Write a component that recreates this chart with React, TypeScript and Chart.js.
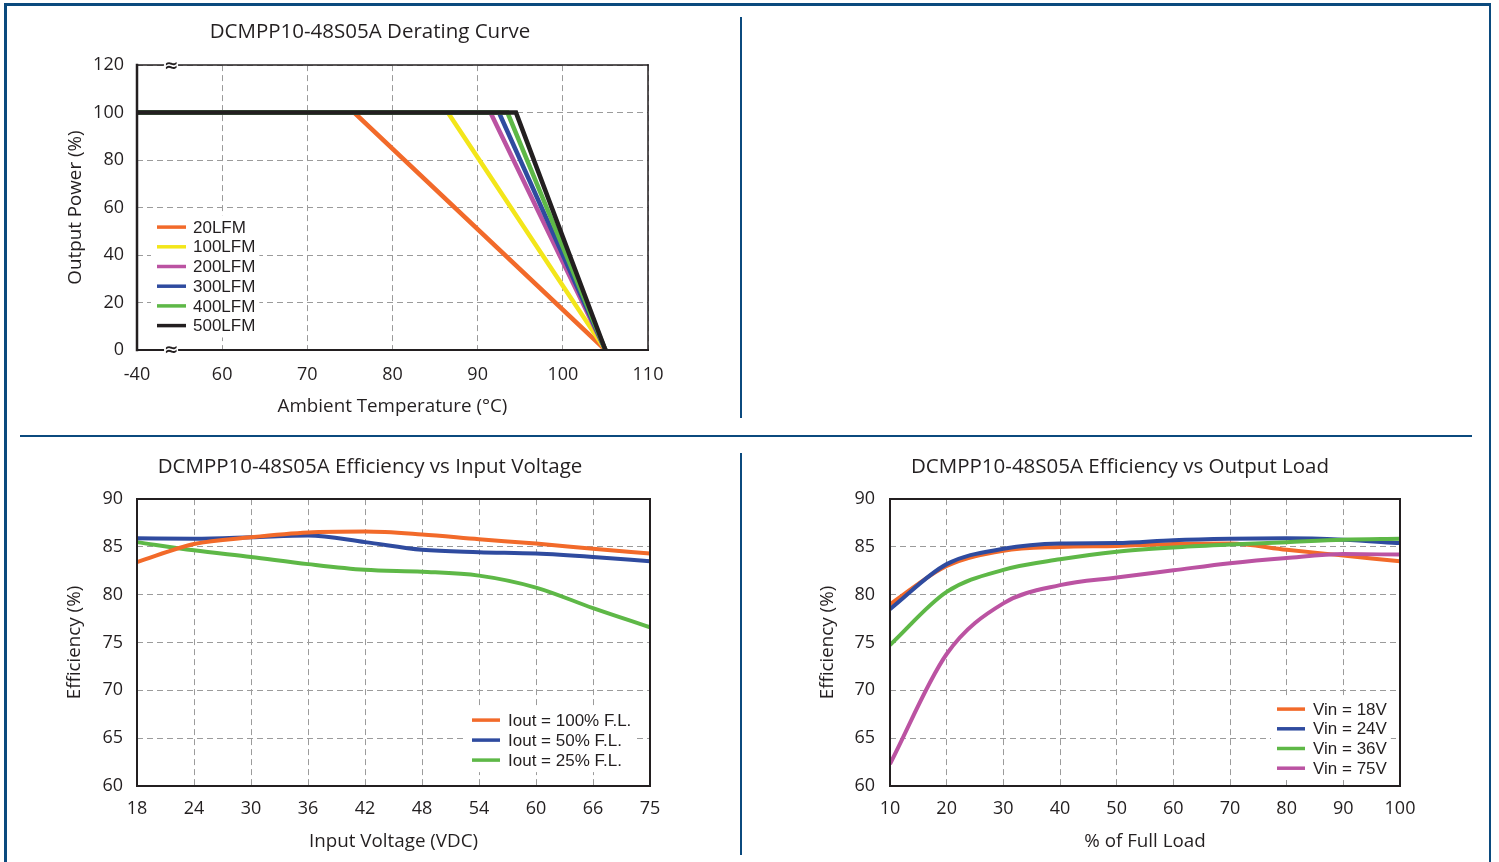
import React, { useEffect, useRef } from 'react';
import { Chart, registerables } from 'chart.js';
Chart.register(...registerables);

// ---------------- DATA ----------------
// Derating curve
const derateLabels = ['20LFM', '100LFM', '200LFM', '300LFM', '400LFM', '500LFM'];
const derateKneeTemp = [75.5, 86.5, 91.5, 92.5, 93.5, 94.5];
const derateStartTemp = -40;
const derateEndTemp = 105;
const derateFullPower = 100;
const derateZeroPower = 0;
const derateXTicks = [-40, 60, 70, 80, 90, 100, 110];

// Efficiency vs input voltage
const vinTicks = ['18', '24', '30', '36', '42', '48', '54', '60', '66', '75'];
const vinSeriesLabels = ['Iout = 100% F.L.', 'Iout = 50% F.L.', 'Iout = 25% F.L.'];
const effVinFull = [83.4, 85.3, 86.0, 86.5, 86.6, 86.3, 85.8, 85.35, 84.8, 84.3];
const effVinHalf = [85.9, 85.85, 86.0, 86.2, 85.5, 84.7, 84.45, 84.3, 83.95, 83.5];
const effVinQuarter = [85.5, 84.65, 83.95, 83.2, 82.6, 82.4, 82.0, 80.75, 78.6, 76.6];

// Efficiency vs output load
const loadPct = [10, 20, 30, 40, 50, 60, 70, 80, 90, 100];
const loadSeriesLabels = ['Vin = 18V', 'Vin = 24V', 'Vin = 36V', 'Vin = 75V'];
const effLoad18 = [79.0, 83.0, 84.6, 85.0, 85.1, 85.3, 85.35, 84.7, 84.1, 83.5];
const effLoad24 = [78.5, 83.2, 84.8, 85.35, 85.4, 85.7, 85.85, 85.9, 85.75, 85.4];
const effLoad36 = [74.75, 80.3, 82.6, 83.7, 84.5, 84.95, 85.25, 85.5, 85.75, 85.85];
const effLoad75 = [62.3, 73.8, 79.1, 81.0, 81.8, 82.55, 83.3, 83.85, 84.25, 84.2];

// ---------------- STYLE ----------------
const ORANGE = '#f26a2a';
const YELLOW = '#f3e61a';
const MAGENTA = '#bb53a2';
const BLUE = '#2f4b9f';
const GREEN = '#5eb847';
const BLACK = '#231f20';
const derateColors = [ORANGE, YELLOW, MAGENTA, BLUE, GREEN, BLACK];
const FRAME_BLUE = '#0b4a7e';
const GRID = '#9b9b9b';
const TEXT = '#231f20';
const FONT = "'Open Sans', sans-serif";
const LEGEND_FONT = "17px 'Liberation Sans', Arial, sans-serif";

Chart.defaults.font.family = FONT;
Chart.defaults.color = TEXT;

// axis break: -40..60 compressed into one 10-unit interval
const BREAK_LOW = -40;
const BREAK_HIGH = 60;
const BREAK_AXIS_LOW = 50;
const toAxis = (t: number) =>
  t >= BREAK_HIGH ? t : BREAK_AXIS_LOW + ((t - BREAK_LOW) * (BREAK_HIGH - BREAK_AXIS_LOW)) / (BREAK_HIGH - BREAK_LOW);

// ---------------- PLUGINS ----------------
const framePlugin = {
  id: 'frame',
  afterDatasetsDraw(chart: any, _a: any, opts: any) {
    const { ctx, chartArea: a } = chart;
    const w = opts.widths || { left: 2, right: 2, top: 2, bottom: 2 };
    ctx.save();
    ctx.strokeStyle = opts.color || BLACK;
    ctx.lineCap = 'square';
    const seg = (x1: number, y1: number, x2: number, y2: number, lw: number) => {
      ctx.lineWidth = lw;
      ctx.beginPath();
      ctx.moveTo(x1, y1);
      ctx.lineTo(x2, y2);
      ctx.stroke();
    };
    seg(a.left, a.top, a.right, a.top, w.top);
    seg(a.right, a.top, a.right, a.bottom, w.right);
    seg(a.left, a.bottom, a.right, a.bottom, w.bottom);
    seg(a.left, a.top, a.left, a.bottom, w.left);
    ctx.restore();
  },
};

const breakPlugin = {
  id: 'axisBreak',
  afterDatasetsDraw(chart: any, _a: any, opts: any) {
    if (!opts || opts.at === undefined) return;
    const { ctx, chartArea: a } = chart;
    const x = chart.scales.x.getPixelForValue(opts.at);
    ctx.save();
    [a.top, a.bottom].forEach((y: number) => {
      ctx.fillStyle = '#ffffff';
      ctx.fillRect(x - 7, y - 3, 14, 6);
      ctx.fillStyle = BLACK;
      ctx.font = "bold 17px 'DejaVu Sans', sans-serif";
      ctx.textAlign = 'center';
      ctx.textBaseline = 'middle';
      ctx.fillText('\u2248', x, y + 1);
    });
    ctx.restore();
  },
};

const insideLegendPlugin = {
  id: 'insideLegend',
  beforeDatasetsDraw(chart: any, _a: any, opts: any) {
    const { ctx, chartArea: a } = chart;
    ctx.save();
    ctx.font = LEGEND_FONT;
    let maxW = 0;
    chart.data.datasets.forEach((d: any) => (maxW = Math.max(maxW, ctx.measureText(d.label).width)));
    const x0 = a.left + opts.dx;
    const y0 = a.top + opts.dy;
    const n = chart.data.datasets.length;
    ctx.fillStyle = '#ffffff';
    ctx.fillRect(x0 - 6, y0 - opts.rowH / 2 - 2, opts.lineLen + opts.gap + maxW + 10, opts.rowH * n + 4);
    ctx.restore();
  },
  afterDatasetsDraw(chart: any, _a: any, opts: any) {
    const { ctx, chartArea: a } = chart;
    const x0 = a.left + opts.dx;
    const y0 = a.top + opts.dy;
    ctx.save();
    ctx.font = LEGEND_FONT;
    ctx.textBaseline = 'middle';
    ctx.textAlign = 'left';
    chart.data.datasets.forEach((d: any, i: number) => {
      const y = y0 + i * opts.rowH;
      ctx.strokeStyle = d.borderColor;
      ctx.lineWidth = 3.5;
      ctx.beginPath();
      ctx.moveTo(x0, y);
      ctx.lineTo(x0 + opts.lineLen, y);
      ctx.stroke();
      ctx.fillStyle = TEXT;
      ctx.fillText(d.label, x0 + opts.lineLen + opts.gap, y + 1);
    });
    ctx.restore();
  },
};

// ---------------- HELPERS ----------------
const gridOpts = { color: GRID, lineWidth: 1, drawTicks: false };
const borderOpts = { display: false, dash: [6, 4] };
const tickFont = { size: 18, family: FONT };
const titleFont = { size: 18.8, family: FONT };

function yScale(min: number, max: number, step: number, title: string, width: number, titlePad: number, tickPad: number) {
  return {
    type: 'linear',
    position: 'left',
    min,
    max,
    ticks: { stepSize: step, font: tickFont, color: TEXT, padding: tickPad },
    grid: gridOpts,
    border: borderOpts,
    title: { display: true, text: title, font: titleFont, color: TEXT, padding: { top: titlePad, bottom: 0 } },
    afterFit: (s: any) => {
      s.width = width;
    },
  };
}

// empty right-hand spacer so the full-width title stays centred on the panel
function rightSpacer(width: number) {
  return {
    type: 'linear',
    position: 'right',
    display: true,
    grid: { display: false, drawTicks: false },
    border: { display: false },
    ticks: { display: false },
    title: { display: false },
    afterFit: (s: any) => {
      s.width = width;
    },
  };
}

function chartTitle(text: string, bottomPad: number) {
  return {
    display: true,
    text,
    color: TEXT,
    font: { size: 20.5, family: FONT, weight: 'normal' as const },
    padding: { top: 10, bottom: bottomPad },
  };
}

// ---------------- CONFIGS ----------------
function derateConfig(): any {
  const n = derateLabels.length;
  return {
    type: 'line',
    data: {
      datasets: derateLabels.map((label, i) => ({
        label,
        xAxisID: 'x',
        yAxisID: 'y',
        order: n - i,
        data: [
          { x: toAxis(derateStartTemp), y: derateFullPower },
          { x: toAxis(derateKneeTemp[i]), y: derateFullPower },
          { x: toAxis(derateEndTemp), y: derateZeroPower },
        ],
        borderColor: derateColors[i],
        backgroundColor: derateColors[i],
        borderWidth: 4.5,
        pointRadius: 0,
        tension: 0,
        borderCapStyle: 'butt',
      })),
    },
    options: {
      responsive: false,
      animation: false,
      layout: { padding: 0 },
      plugins: {
        legend: { display: false },
        tooltip: { enabled: false },
        title: chartTitle('DCMPP10-48S05A Derating Curve', 20.5),
        frame: { color: BLACK, widths: { left: 2.5, bottom: 2, top: 1.5, right: 1.5 } },
        axisBreak: { at: toAxis(0) },
        insideLegend: { dx: 20, dy: 162, rowH: 19.7, lineLen: 29, gap: 7 },
      },
      scales: {
        x: {
          type: 'linear',
          min: toAxis(derateXTicks[0]),
          max: toAxis(derateXTicks[derateXTicks.length - 1]),
          afterBuildTicks: (s: any) => {
            s.ticks = derateXTicks.map((t) => ({ value: toAxis(t) }));
          },
          ticks: {
            font: tickFont,
            color: TEXT,
            padding: 14,
            maxRotation: 0,
            callback: (_v: any, i: number) => String(derateXTicks[i]),
          },
          grid: gridOpts,
          border: borderOpts,
          title: { display: true, text: 'Ambient Temperature (°C)', font: titleFont, color: TEXT, padding: { top: 0, bottom: 7 } },
          afterFit: (s: any) => {
            s.height = 75;
          },
        },
        y: yScale(0, 120, 20, 'Output Power (%)', 117, 44.5, 13),
        yR: rightSpacer(72),
      },
    },
    plugins: [framePlugin, breakPlugin, insideLegendPlugin],
  };
}

function vinConfig(): any {
  const series = [effVinFull, effVinHalf, effVinQuarter];
  const colors = [ORANGE, BLUE, GREEN];
  return {
    type: 'line',
    data: {
      labels: vinTicks,
      datasets: series.map((d, i) => ({
        label: vinSeriesLabels[i],
        xAxisID: 'x',
        yAxisID: 'y',
        data: d,
        borderColor: colors[i],
        backgroundColor: colors[i],
        borderWidth: 4,
        pointRadius: 0,
        cubicInterpolationMode: 'monotone',
      })),
    },
    options: {
      responsive: false,
      animation: false,
      layout: { padding: 0 },
      plugins: {
        legend: { display: false },
        tooltip: { enabled: false },
        title: chartTitle('DCMPP10-48S05A Efficiency vs Input Voltage', 19.5),
        frame: { color: BLACK, widths: { left: 2, bottom: 2, top: 2, right: 2 } },
        insideLegend: { dx: 335, dy: 221, rowH: 20, lineLen: 28, gap: 8 },
      },
      scales: {
        x: {
          type: 'category',
          offset: false,
          ticks: { font: tickFont, color: TEXT, padding: 12, maxRotation: 0, autoSkip: false },
          grid: { ...gridOpts, offset: false },
          border: borderOpts,
          title: { display: true, text: 'Input Voltage (VDC)', font: titleFont, color: TEXT, padding: { top: 0, bottom: 2 } },
          afterFit: (s: any) => {
            s.height = 69;
          },
        },
        y: yScale(60, 90, 5, 'Efficiency (%)', 117, 43.5, 14),
        yR: rightSpacer(70),
      },
    },
    plugins: [framePlugin, insideLegendPlugin],
  };
}

function loadConfig(): any {
  const series = [effLoad18, effLoad24, effLoad36, effLoad75];
  const colors = [ORANGE, BLUE, GREEN, MAGENTA];
  const n = series.length;
  return {
    type: 'line',
    data: {
      datasets: series.map((d, i) => ({
        label: loadSeriesLabels[i],
        xAxisID: 'x',
        yAxisID: 'y',
        order: n - i,
        data: loadPct.map((x, j) => ({ x, y: d[j] })),
        borderColor: colors[i],
        backgroundColor: colors[i],
        borderWidth: 4,
        pointRadius: 0,
        cubicInterpolationMode: 'monotone',
      })),
    },
    options: {
      responsive: false,
      animation: false,
      layout: { padding: 0 },
      plugins: {
        legend: { display: false },
        tooltip: { enabled: false },
        title: chartTitle('DCMPP10-48S05A Efficiency vs Output Load', 19.5),
        frame: { color: BLACK, widths: { left: 2, bottom: 2, top: 2, right: 2 } },
        insideLegend: { dx: 387, dy: 210, rowH: 19.7, lineLen: 28, gap: 8 },
      },
      scales: {
        x: {
          type: 'linear',
          min: loadPct[0],
          max: loadPct[loadPct.length - 1],
          ticks: { stepSize: 10, font: tickFont, color: TEXT, padding: 12, maxRotation: 0 },
          grid: gridOpts,
          border: borderOpts,
          title: { display: true, text: '% of Full Load', font: titleFont, color: TEXT, padding: { top: 0, bottom: 2 } },
          afterFit: (s: any) => {
            s.height = 69;
          },
        },
        y: yScale(60, 90, 5, 'Efficiency (%)', 130, 56.5, 15),
        yR: rightSpacer(80),
      },
    },
    plugins: [framePlugin, insideLegendPlugin],
  };
}

// ---------------- COMPONENTS ----------------
function ChartBox(props: { left: number; top: number; width: number; height: number; config: () => any }) {
  const ref = useRef<HTMLCanvasElement>(null);
  useEffect(() => {
    const chart = new Chart(ref.current as HTMLCanvasElement, props.config());
    return () => chart.destroy();
  }, []);
  return (
    <div style={{ position: 'absolute', left: props.left, top: props.top, width: props.width, height: props.height }}>
      <canvas ref={ref} width={props.width} height={props.height} style={{ width: props.width, height: props.height, display: 'block' }} />
    </div>
  );
}

function Line(props: { left: number; top: number; width: number; height: number }) {
  return <div style={{ position: 'absolute', background: FRAME_BLUE, ...props }} />;
}

export default function App() {
  return (
    <div style={{ position: 'fixed', left: 0, top: 0, width: 1499, height: 862, background: '#ffffff', overflow: 'hidden' }}>
      {/* outer frame */}
      <Line left={4} top={3} width={1487} height={2.5} />
      <Line left={4} top={3} width={2.5} height={870} />
      <Line left={1488.5} top={3} width={2.5} height={870} />
      {/* separators */}
      <Line left={20} top={434.5} width={1452} height={2.2} />
      <Line left={740} top={17} width={2} height={401} />
      <Line left={740} top={453} width={2} height={402} />
      <ChartBox left={20} top={10} width={700} height={415} config={derateConfig} />
      <ChartBox left={20} top={445} width={700} height={410} config={vinConfig} />
      <ChartBox left={760} top={445} width={720} height={410} config={loadConfig} />
    </div>
  );
}
